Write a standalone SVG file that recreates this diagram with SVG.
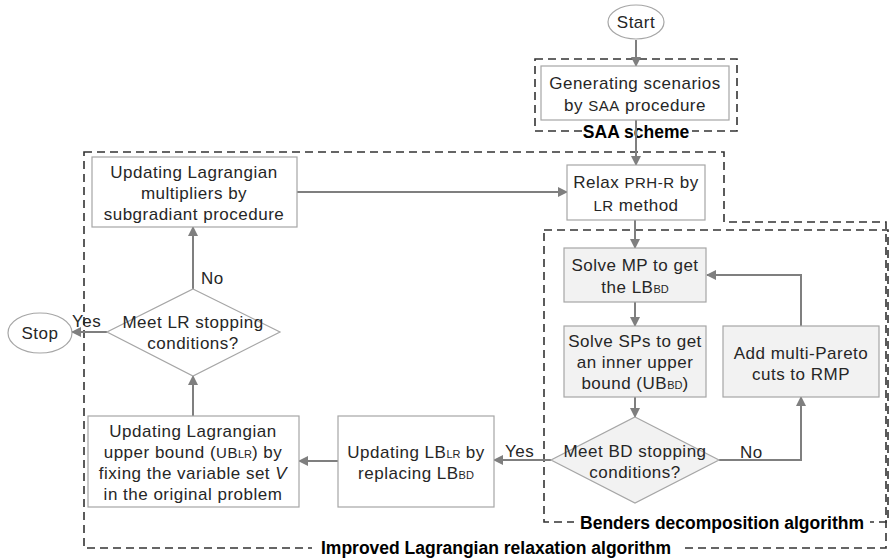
<svg xmlns="http://www.w3.org/2000/svg" width="889" height="560" viewBox="0 0 889 560">
<defs>
<marker id="ah" markerWidth="10" markerHeight="10" refX="9" refY="5" orient="auto" markerUnits="userSpaceOnUse">
<path d="M0,0 L10,5 L0,10 Z" fill="#7f7f7f"/>
</marker>
<style>
.box{fill:#fff;stroke:#a6a6a6;stroke-width:1.2}
.gbox{fill:#f2f2f2;stroke:#a6a6a6;stroke-width:1.2}
.t{font-family:"Liberation Sans",Arial,sans-serif;font-size:17px;fill:#262626;text-anchor:middle;letter-spacing:0.5px}
.lbl{font-family:"Liberation Sans",Arial,sans-serif;font-size:17px;fill:#262626;letter-spacing:0.5px}
.b{font-family:"Liberation Sans",Arial,sans-serif;font-size:17.5px;font-weight:bold;fill:#000;text-anchor:middle}
.s{font-size:11px;letter-spacing:0}
.m{font-size:15px}
.dash{fill:none;stroke:#333;stroke-width:1.6;stroke-dasharray:8 5}
.c{fill:none;stroke:#7f7f7f;stroke-width:2;marker-end:url(#ah)}
</style>
</defs>

<g id="frames">
<rect x="535" y="59" width="202" height="72" class="dash"/>
<path d="M84,152 L724,152 L724,222 L886,222 L886,548 L84,548 Z" class="dash"/>
<rect x="544" y="230" width="344" height="292" class="dash"/>
<rect x="582" y="124" width="110" height="18" fill="#fff"/>
<text x="636" y="138" class="b">SAA scheme</text>
<rect x="574" y="513" width="296" height="19" fill="#fff"/>
<text x="722" y="529" class="b">Benders decomposition algorithm</text>
<rect x="312" y="539" width="368" height="20" fill="#fff"/>
<text x="496" y="554" class="b">Improved Lagrangian relaxation algorithm</text>
</g>

<g id="connectors">
<line x1="636" y1="40" x2="636" y2="66" class="c"/>
<line x1="636" y1="120" x2="636" y2="165" class="c"/>
<line x1="297" y1="192" x2="567" y2="192" class="c"/>
<line x1="635" y1="220" x2="635" y2="248" class="c"/>
<line x1="635" y1="302" x2="635" y2="326" class="c"/>
<line x1="635" y1="397" x2="635" y2="417" class="c"/>
<polyline points="719,460 801,460 801,397" class="c"/>
<polyline points="801,326 801,275 707,275" class="c"/>
<line x1="551" y1="460" x2="494" y2="460" class="c"/>
<line x1="338" y1="461" x2="299" y2="461" class="c"/>
<line x1="193" y1="416" x2="193" y2="376" class="c"/>
<line x1="193" y1="289" x2="193" y2="227" class="c"/>
<line x1="107" y1="332" x2="72" y2="332" class="c"/>
<text x="740" y="458" class="lbl">No</text>
<text x="505" y="457" class="lbl">Yes</text>
<text x="201" y="284" class="lbl">No</text>
<text x="72" y="327" class="lbl">Yes</text>
</g>

<g id="start">
<ellipse cx="636" cy="22" rx="28" ry="17" class="box"/>
<text x="636" y="28" class="t">Start</text>
</g>

<g id="generating">
<rect x="541" y="66" width="188" height="54" class="box"/>
<text x="635" y="89" class="t">Generating scenarios</text>
<text x="635" y="111" class="t">by <tspan class="m">SAA</tspan> procedure</text>
</g>

<g id="relax">
<rect x="567" y="165" width="138" height="55" class="box"/>
<text x="636" y="188" class="t">Relax <tspan class="m">PRH-R</tspan> by</text>
<text x="636" y="211" class="t"><tspan class="m">LR</tspan> method</text>
</g>

<g id="multipliers">
<rect x="92" y="157" width="205" height="70" class="box"/>
<text x="194" y="178" class="t">Updating Lagrangian</text>
<text x="194" y="199" class="t">multipliers by</text>
<text x="194" y="220" class="t">subgradiant procedure</text>
</g>

<g id="solveMP">
<rect x="564" y="248" width="142" height="54" class="gbox"/>
<text x="635" y="271" class="t">Solve MP to get</text>
<text x="635" y="293" class="t">the LB<tspan class="s">BD</tspan></text>
</g>

<g id="solveSP">
<rect x="564" y="326" width="142" height="71" class="gbox"/>
<text x="635" y="347" class="t">Solve SPs to get</text>
<text x="635" y="368" class="t">an inner upper</text>
<text x="635" y="389" class="t">bound (UB<tspan class="s">BD</tspan>)</text>
</g>

<g id="addcuts">
<rect x="723" y="326" width="156" height="71" class="gbox"/>
<text x="801" y="359" class="t">Add multi-Pareto</text>
<text x="801" y="380" class="t">cuts to RMP</text>
</g>

<g id="bdcheck">
<polygon points="635,417 719,460 635,503 551,460" class="gbox"/>
<text x="635" y="457" class="t">Meet BD stopping</text>
<text x="635" y="478" class="t">conditions?</text>
</g>

<g id="updateLB">
<rect x="338" y="416" width="156" height="91" class="box"/>
<text x="416" y="458" class="t">Updating LB<tspan class="s">LR</tspan> by</text>
<text x="416" y="479" class="t">replacing LB<tspan class="s">BD</tspan></text>
</g>

<g id="updateUB">
<rect x="88" y="416" width="211" height="91" class="box"/>
<text x="193" y="437" class="t">Updating Lagrangian</text>
<text x="193" y="458" class="t">upper bound (<tspan class="m">UB</tspan><tspan class="s">LR</tspan>) by</text>
<text x="193" y="479" class="t">fixing the variable set <tspan font-style="italic">V</tspan></text>
<text x="193" y="500" class="t">in the original problem</text>
</g>

<g id="lrcheck">
<polygon points="193,289 280,332 193,376 107,332" class="box"/>
<text x="193" y="328" class="t">Meet LR stopping</text>
<text x="193" y="349" class="t">conditions?</text>
</g>

<g id="stop">
<ellipse cx="40" cy="333" rx="32" ry="20" class="box"/>
<text x="40" y="339" class="t">Stop</text>
</g>
</svg>
